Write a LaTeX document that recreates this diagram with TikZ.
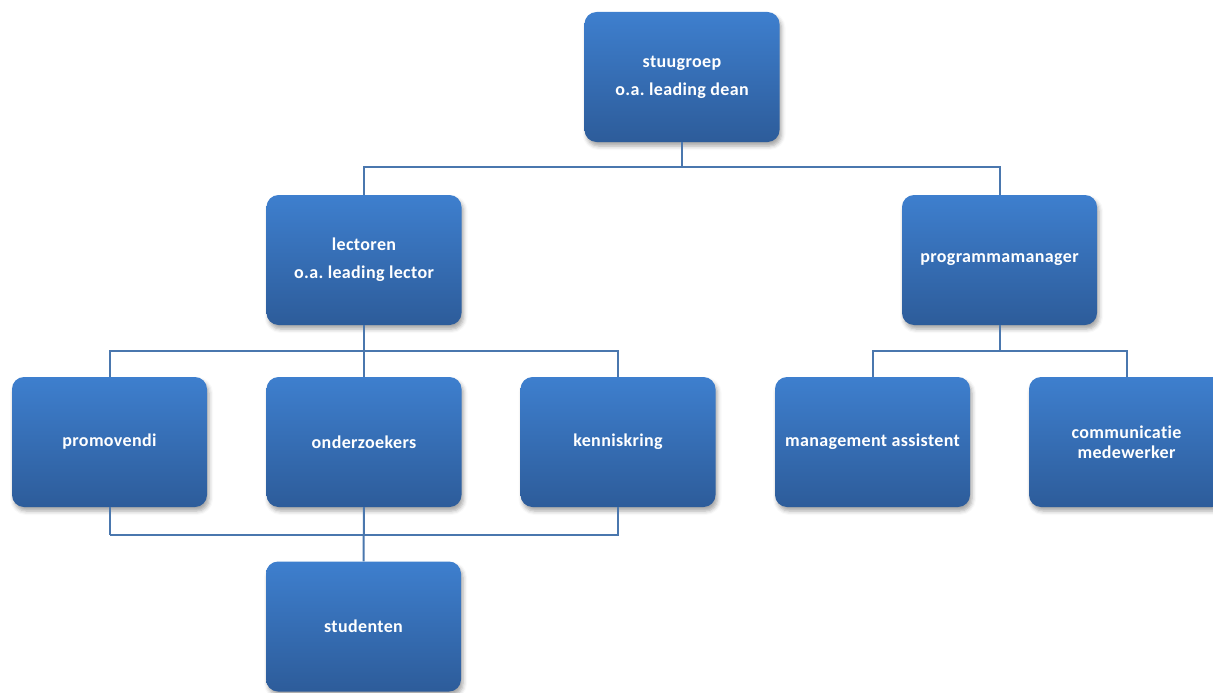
\documentclass[tikz,border=0pt]{standalone}
\usepackage{fontspec}
\setmainfont{Carlito}[LetterSpace=2,Ligatures=NoCommon]
\usetikzlibrary{shadows.blur}
\definecolor{boxtop}{HTML}{3E7FCE}
\definecolor{boxbot}{HTML}{2D5C9A}
\definecolor{linec}{HTML}{4A77AE}
\tikzset{
  orgbox/.style={rectangle, rounded corners=12pt, minimum width=195pt, minimum height=130pt,
    top color=boxtop, bottom color=boxbot, draw=none, text=white, font=\bfseries\fontsize{18pt}{20pt}\selectfont\frenchspacing,
    align=center, blur shadow={shadow xshift=2pt, shadow yshift=-4pt, shadow blur radius=4pt, shadow opacity=35}},
  conn/.style={draw=linec, line width=2pt}
}
\begin{document}
\begin{tikzpicture}[x=1pt,y=-1pt]
\useasboundingbox (0,0) rectangle (1213,693);
\node[orgbox] (stu) at (682,77) {stuugroep\\[8pt]o.a. leading dean};
\node[orgbox] (lec) at (364,260) {lectoren\\[8pt]o.a. leading lector};
\node[orgbox] (prog) at (999.5,260) {programmamanager};
\node[orgbox] (pro) at (109.5,442) {promovendi};
\node[orgbox] (ond) at (364,442) {onderzoekers};
\node[orgbox] (ken) at (618,442) {kenniskring};
\node[orgbox] (man) at (872.5,442) {management assistent};
\node[orgbox] (com) at (1126.5,442) {communicatie\\medewerker};
\node[orgbox] (std) at (363.5,626.5) {studenten};
\coordinate (j1) at (682,167);
\coordinate (j2) at (364,351);
\coordinate (j3) at (999.5,351);
\coordinate (j4) at (109.5,535);
\draw[conn] (stu.south) -- (j1);
\draw[conn] (j1) -| (lec.north);
\draw[conn] (j1) -| (prog.north);
\draw[conn] (lec.south) -- (j2);
\draw[conn] (j2) -| (pro.north);
\draw[conn] (j2) -- (ond.north);
\draw[conn] (j2) -| (ken.north);
\draw[conn] (prog.south) -- (j3);
\draw[conn] (j3) -| (man.north);
\draw[conn] (j3) -| (com.north);
\draw[conn] (pro.south) -- (j4);
\draw[conn] (j4) -| (ken.south);
\draw[conn] (ond.south) -- (std.north);
\end{tikzpicture}
\end{document}
